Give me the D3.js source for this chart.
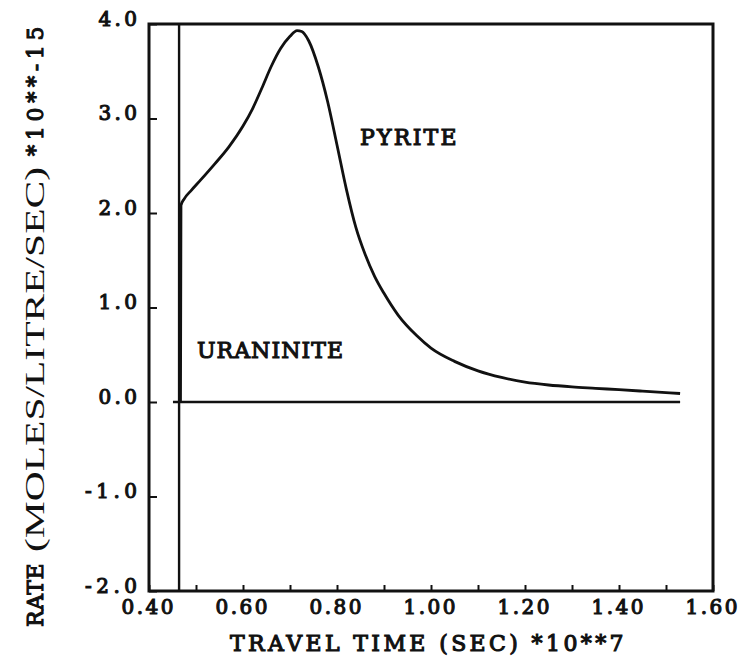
<!DOCTYPE html>
<html>
<head>
<meta charset="utf-8">
<script src="https://cdn.jsdelivr.net/npm/d3@7"></script>
<style>
  body { margin: 0; background: #fff; }
  text { fill: #111; }
</style>
</head>
<body>
<div id="chart"></div>
<script>
// pyrite rate vs travel time (rate *10**-15, time *10**7)
const pyriteTime = [0.467, 0.468, 0.475, 0.49, 0.51, 0.54, 0.57, 0.60, 0.62, 0.64, 0.66, 0.68, 0.70,
  0.715, 0.725, 0.74, 0.76, 0.78, 0.80, 0.82, 0.84, 0.86, 0.88, 0.90, 0.93, 0.97, 1.00, 1.05, 1.10,
  1.15, 1.20, 1.25, 1.30, 1.35, 1.40, 1.45, 1.53];
const pyriteRate = [0.00, 2.08, 2.15, 2.24, 2.35, 2.52, 2.70, 2.92, 3.10, 3.32, 3.55, 3.74, 3.87,
  3.93, 3.92, 3.82, 3.55, 3.18, 2.72, 2.25, 1.85, 1.56, 1.33, 1.15, 0.92, 0.70, 0.57, 0.43, 0.33,
  0.26, 0.21, 0.18, 0.16, 0.145, 0.13, 0.115, 0.09];

// uraninite: zero everywhere except the off-scale spike at the start
const uraniniteTime = [0.451, 0.464, 0.464, 0.464, 0.464, 1.530];
const uraniniteRate = [0, 0, 4.0, -2.0, 0, 0];

const xTicks = [0.4, 0.5, 0.6, 0.7, 0.8, 0.9, 1.0, 1.1, 1.2, 1.3, 1.4, 1.5, 1.6];
const xTickLabels = ["0.40", "", "0.60", "", "0.80", "", "1.00", "", "1.20", "", "1.40", "", "1.60"];
const yTicks = [-2, -1, 0, 1, 2, 3, 4];
const yTickLabels = ["-2.0", "-1.0", "0.0", "1.0", "2.0", "3.0", "4.0"];

const xTitle = "TRAVEL TIME (SEC) *10**7";
const yTitleParts = ["RATE", "(MOLES/LITRE/SEC)", "*10**-15"];

const width = 744, height = 666;
// no Courier here, so a slab-ish serif spaced out to typewriter pitch
const typeFont = "'DejaVu Serif', 'Liberation Serif', serif";
const serif = "'Liberation Serif', 'Times New Roman', serif";
const pitch = (s, p) => (s.length - 1) * p + p * 0.85;

const svg = d3.select('#chart').append('svg')
  .attr('width', width)
  .attr('height', height);

const x = d3.scaleLinear().domain([0.4, 1.6]).range([149, 713]);
const y = d3.scaleLinear().domain([-2, 4]).range([591, 24]);

function typewriter(sel, size, p) {
  sel.attr('font-family', typeFont)
    .attr('font-size', size)
    .attr('stroke', '#111')
    .attr('stroke-width', 1.1)
    .attr('lengthAdjust', 'spacing')
    .attr('textLength', function() { return pitch(this.textContent, p); });
}

// bottom axis, ticks point inward
const xAxis = d3.axisBottom(x)
  .tickValues(xTicks)
  .tickFormat((d, i) => xTickLabels[i])
  .tickSizeInner(-6)
  .tickSizeOuter(0)
  .tickPadding(9);

const gx = svg.append('g')
  .attr('transform', 'translate(0,' + y(-2) + ')')
  .call(xAxis);
gx.select('.domain').remove();
gx.selectAll('line').attr('stroke', '#111').attr('stroke-width', 2);
gx.selectAll('text').filter(function() { return this.textContent === ''; }).remove();
gx.selectAll('text').call(typewriter, 20, 13.5).attr('dx', -2);

const yAxis = d3.axisLeft(y)
  .tickValues(yTicks)
  .tickFormat((d, i) => yTickLabels[i])
  .tickSizeInner(-8)
  .tickSizeOuter(0)
  .tickPadding(12);

const gy = svg.append('g')
  .attr('transform', 'translate(' + x(0.4) + ',0)')
  .call(yAxis);
gy.select('.domain').remove();
gy.selectAll('line').attr('stroke', '#111').attr('stroke-width', 2);
gy.selectAll('text').call(typewriter, 20, 13.5).attr('dy', '0.05em');

// frame
svg.append('rect')
  .attr('x', x(0.4))
  .attr('y', y(4))
  .attr('width', x(1.6) - x(0.4))
  .attr('height', y(-2) - y(4))
  .attr('fill', 'none')
  .attr('stroke', '#111')
  .attr('stroke-width', 3);

// curves
const uraninite = d3.range(uraniniteTime.length).map(i => [uraniniteTime[i], uraniniteRate[i]]);
const pyrite = d3.range(pyriteTime.length).map(i => [pyriteTime[i], pyriteRate[i]]);

svg.append('path')
  .datum(uraninite)
  .attr('fill', 'none')
  .attr('stroke', '#111')
  .attr('stroke-width', 2.4)
  .attr('d', d3.line().x(d => x(d[0])).y(d => y(d[1])));

svg.append('path')
  .datum(pyrite)
  .attr('fill', 'none')
  .attr('stroke', '#111')
  .attr('stroke-width', 2.8)
  .attr('stroke-linejoin', 'round')
  .attr('d', d3.line().curve(d3.curveMonotoneX).x(d => x(d[0])).y(d => y(d[1])));

// curve labels
svg.append('text')
  .attr('x', x(0.849)).attr('y', y(2.72))
  .text('PYRITE')
  .call(typewriter, 22, 16.5);

svg.append('text')
  .attr('x', x(0.502)).attr('y', y(0.47))
  .text('URANINITE')
  .call(typewriter, 22, 16.5);

// axis titles
svg.append('text')
  .attr('x', 230).attr('y', 651)
  .text(xTitle)
  .call(typewriter, 22, 16.5);

// y title, read bottom to top, three pieces in two fonts
const yTitle = svg.append('g').attr('transform', 'translate(43,0) rotate(-90)');
yTitle.append('text')
  .attr('x', -627).attr('y', 0)
  .text(yTitleParts[0])
  .call(typewriter, 22, 16.5);
yTitle.append('text')
  .attr('x', -552).attr('y', 1)
  .attr('font-family', serif).attr('font-size', 28)
  .attr('textLength', 385).attr('lengthAdjust', 'spacingAndGlyphs')
  .text(yTitleParts[1]);
yTitle.append('text')
  .attr('x', -156).attr('y', 0)
  .text(yTitleParts[2])
  .call(typewriter, 22, 16.5);
</script>
</body>
</html>
